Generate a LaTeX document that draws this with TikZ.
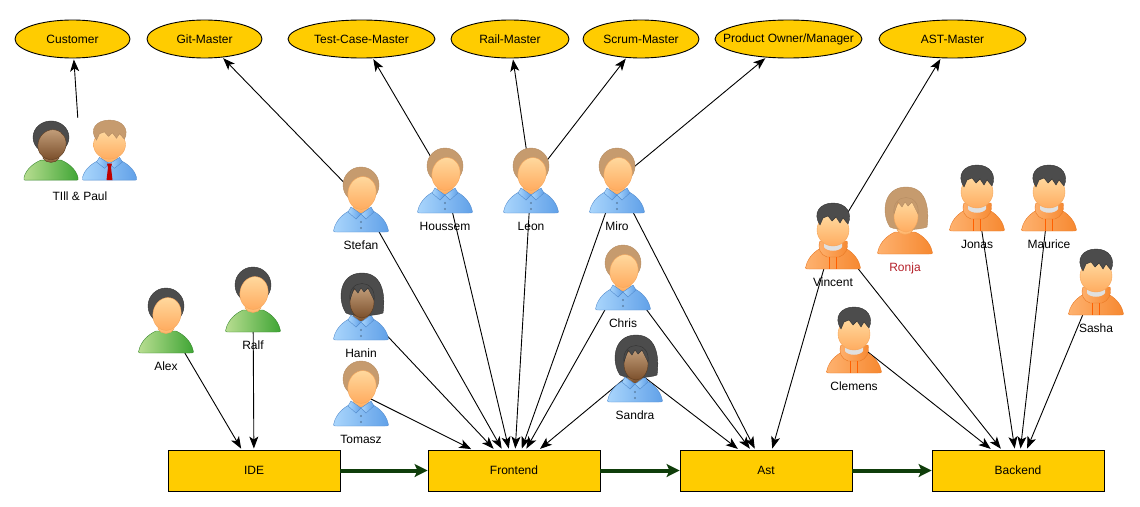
\documentclass[tikz,border=0pt]{standalone}
\usepackage{fontspec}
\setmainfont{Liberation Sans}
\usetikzlibrary{shapes.geometric,arrows.meta}
\definecolor{roleyellow}{HTML}{FFCC00}
\definecolor{flowgreen}{HTML}{0F3D0A}
\definecolor{ronjared}{HTML}{B5202A}
\tikzset{%
  role/.style={ellipse, draw=black, fill=roleyellow, line width=.9pt, inner sep=0pt, minimum height=38pt, font=\fontsize{12}{14}\selectfont},
  team/.style={rectangle, draw=black, fill=roleyellow, line width=.9pt, inner sep=0pt, minimum width=172pt, minimum height=41pt, font=\fontsize{12}{14}\selectfont},
  person/.style={rectangle, inner sep=0pt, minimum width=58pt, minimum height=66pt},
  persontag/.style={inner sep=0pt, text height=9pt, text depth=3pt, font=\fontsize{12}{14}\selectfont, anchor=north, yshift=-7pt},
  link/.style={-{Stealth[length=12pt,width=9pt,inset=3pt]}, line width=.9pt, shorten >=1pt},
  flow/.style={-{Stealth[length=13pt,width=13pt,inset=3pt]}, line width=4pt, flowgreen},
  % looks of the avatars
  bluecloth/.style={left color={rgb,255:red,170;green,214;blue,252}, right color={rgb,255:red,96;green,160;blue,232}, draw={rgb,255:red,84;green,140;blue,205}},
  greencloth/.style={left color={rgb,255:red,186;green,222;blue,146}, right color={rgb,255:red,62;green,165;blue,52}, draw={rgb,255:red,56;green,135;blue,46}},
  orangecloth/.style={left color={rgb,255:red,254;green,178;blue,112}, right color={rgb,255:red,246;green,136;blue,48}, draw={rgb,255:red,232;green,120;blue,36}},
  lightskin/.style={top color={rgb,255:red,255;green,218;blue,160}, bottom color={rgb,255:red,255;green,172;blue,96}, draw={rgb,255:red,245;green,165;blue,90}},
  darkskin/.style={top color={rgb,255:red,196;green,160;blue,124}, bottom color={rgb,255:red,124;green,80;blue,44}, draw={rgb,255:red,90;green,58;blue,30}},
  brownhair/.style={fill={rgb,255:red,198;green,155;blue,110}, draw={rgb,255:red,182;green,140;blue,98}},
  blackhair/.style={fill=black!70, draw=black!80}
}
% body with rounded shoulders
\newcommand{\bodypath}{(-27,29) .. controls (-25,20) and (-17,13) .. (-10,10) -- (10,10) .. controls (17,13) and (25,20) .. (27,29) .. controls (28,32) and (27,32) .. (24,32) -- (-24,32) .. controls (-27,32) and (-28,32) .. (-27,29) -- cycle}
\newcommand{\shirtcloth}{%
  \draw[cloth] \bodypath;
  \fill[skin, draw=none] (-8,0) rectangle (8,12);
  \draw[cloth] (-10,7) -- (0,14) -- (-5,19) -- (-13,12) -- cycle;
  \draw[cloth] (10,7) -- (0,14) -- (5,19) -- (13,12) -- cycle;
  \fill[black, opacity=.3] (0,22) circle (1.2pt) (0,28) circle (1.2pt);
}
\newcommand{\teecloth}{%
  \draw[cloth] \bodypath;
  \draw[skin] (-8,0) -- (-8,8) .. controls (-5,14) and (5,14) .. (8,8) -- (8,0) -- cycle;
}
\newcommand{\tiecloth}{%
  \shirtcloth
  \fill[red!75!black] (-2.5,14) -- (2.5,14) -- (1.5,18) -- (3,32) -- (-3,32) -- (-1.5,18) -- cycle;
}
\newcommand{\hoodcloth}{%
  \draw[cloth] \bodypath;
  \draw[cloth] (-13,4) .. controls (-16,12) and (-12,18) .. (-6,20) -- (6,20) .. controls (12,18) and (16,12) .. (14,4) -- cycle;
  \fill[black!12] (-9,4) -- (9,4) -- (9,10) .. controls (6,15) and (-6,15) .. (-9,10) -- cycle;
  \draw[orange!75!red] (-4,20) -- (-4,32) (3,20) -- (3,32);
}
\newcommand{\hairsmooth}{%
  \draw[hair] (0,-15) ellipse (18pt and 18pt);
  \draw[skin, rotate around={-12:(1,-7)}] (1,-7) ellipse (14pt and 16.5pt);
}
\newcommand{\hairlong}{%
  \draw[hair] (-15,5) .. controls (-24,-8) and (-22,-35) .. (1,-35) .. controls (24,-35) and (24,-8) .. (22,5) .. controls (15,8) and (-8,9) .. (-15,5) -- cycle;
  \draw[skin] (1,-6) ellipse (12pt and 16pt);
  \draw[hair] (-11,-8) -- (-7,-20) -- (-3,-15) -- (0,-20) -- (3,-16) -- (7,-20) -- (13,-8) .. controls (16,-30) and (-14,-30) .. (-11,-8) -- cycle;
}
\newcommand{\hairspiky}{%
  \draw[skin] (0,-7) ellipse (16pt and 16pt);
  \draw[hair] (-13,-12) -- (-10,-19) -- (-5,-21) -- (-1,-16) -- (3,-20) -- (7,-14) -- (10,-19) -- (15,-13) .. controls (20,-24) and (13,-34) .. (0,-34) .. controls (-13,-34) and (-21,-24) .. (-13,-12) -- cycle;
}
% \avatar[options]{at}{clothes}{cloth look}{hair}{hair look}{skin look}
\newcommand{\avatar}[7][]{%
  \begin{scope}[shift={(#2)}, #1, cloth/.style={#4}, hair/.style={#6}, skin/.style={#7}]
    \csname #3\endcsname
    \csname #5\endcsname
  \end{scope}
}

\begin{document}
\begin{tikzpicture}[x=1pt, y=-1pt]
    \useasboundingbox (0,0) rectangle (1140,506);

    % roles
    \node[role, minimum width=115pt] (customer) at (72.5,39) {Customer};
    \node[role, minimum width=115pt] (gitmaster) at (204.5,39) {Git-Master};
    \node[role, minimum width=147pt] (testcasemaster) at (361.5,39) {Test-Case-Master};
    \node[role, minimum width=118pt] (railmaster) at (510,39) {Rail-Master};
    \node[role, minimum width=116pt] (scrummaster) at (641,39) {Scrum-Master};
    \node[role, minimum width=147pt] (productowner) at (788.5,39) {\makebox[0pt]{Product Owner/Manager}};
    \node[role, minimum width=147pt] (astmaster) at (952.5,39) {AST-Master};

    % teams
    \node[team] (ide) at (254,470.5) {IDE};
    \node[team] (frontend) at (514,470.5) {Frontend};
    \node[team] (ast) at (766,470.5) {Ast};
    \node[team] (backend) at (1018,470.5) {Backend};

    % people
    \node[person, minimum width=116pt] (tillpaul) at (80,151) {};
    \coordinate (till) at (51,151);
    \coordinate (paul) at (109.5,151);
    \node[person] (stefan) at (361,200) {};
    \node[person] (houssem) at (445,181) {};
    \node[person] (leon) at (531,181) {};
    \node[person] (miro) at (617,181) {};
    \node[person] (chris) at (623,278) {};
    \node[person] (hanin) at (361,308) {};
    \node[person] (tomasz) at (361,394) {};
    \node[person] (sandra) at (635,370) {};
    \node[person] (alex) at (166,321) {};
    \node[person] (ralf) at (253,300) {};
    \node[person] (vincent) at (833,237) {};
    \node[person] (ronja) at (905,222) {};
    \node[person] (jonas) at (977,199) {};
    \node[person] (maurice) at (1049,199) {};
    \node[person] (sasha) at (1096,283) {};
    \node[person] (clemens) at (854,341) {};

    \node[persontag] (tillpaultag) at (80,184) {TIll \& Paul};
    \node[persontag] (stefantag) at (stefan.south) {Stefan};
    \node[persontag] (houssemtag) at (houssem.south) {Houssem};
    \node[persontag] (leontag) at (leon.south) {Leon};
    \node[persontag] (mirotag) at (miro.south) {Miro};
    \node[persontag] (christag) at (chris.south) {Chris};
    \node[persontag] (hanintag) at (hanin.south) {Hanin};
    \node[persontag] (tomasztag) at (tomasz.south) {Tomasz};
    \node[persontag] (sandratag) at (sandra.south) {Sandra};
    \node[persontag] (alextag) at (alex.south) {Alex};
    \node[persontag] (ralftag) at (ralf.south) {Ralf};
    \node[persontag] (vincenttag) at (vincent.south) {Vincent};
    \node[persontag, ronjared] (ronjatag) at (ronja.south) {Ronja};
    \node[persontag] (jonastag) at (jonas.south) {Jonas};
    \node[persontag] (mauricetag) at (maurice.south) {Maurice};
    \node[persontag] (sashatag) at (sasha.south) {Sasha};
    \node[persontag] (clemenstag) at (clemens.south) {Clemens};

    % connectors run under the avatars
    \draw[link] (tillpaul) -- (customer);
    \draw[link] (stefan.center) -- (gitmaster);
    \draw[link] (houssem.center) -- (testcasemaster);
    \draw[link] (leon.center) -- (railmaster);
    \draw[link] (leon.center) -- (scrummaster);
    \draw[link] (miro.center) -- (productowner);
    \draw[link] (vincent.center) -- (astmaster);

    \draw[link] (alex.center) -- (ide);
    \draw[link] (ralf.center) -- (ide);

    \draw[link] (stefan.center) -- (frontend);
    \draw[link] (houssem.center) -- (frontend);
    \draw[link] (leon.center) -- (frontend);
    \draw[link] (miro.center) -- (frontend);
    \draw[link] (chris.center) -- (frontend);
    \draw[link] (hanin.center) -- (frontend);
    \draw[link] (tomasz.center) -- (frontend);
    \draw[link] (sandra.center) -- (frontend);

    \draw[link] (miro.center) -- (ast);
    \draw[link] (chris.center) -- (ast);
    \draw[link] (sandra.center) -- (ast);
    \draw[link] (vincent.center) -- (ast);

    \draw[link] (vincent.center) -- (backend);
    \draw[link] (clemens.center) -- (backend);
    \draw[link] (jonas.center) -- (backend);
    \draw[link] (maurice.center) -- (backend);
    \draw[link] (sasha.center) -- (backend);

    \draw[flow] (ide) -- (frontend);
    \draw[flow] (frontend) -- (ast);
    \draw[flow] (ast) -- (backend);

    % avatars
    \avatar[yscale=.91]{till}{teecloth}{greencloth}{hairsmooth}{blackhair}{darkskin}
    \avatar[yscale=.91]{paul}{tiecloth}{bluecloth}{hairspiky}{brownhair}{lightskin}
    \avatar{stefan}{shirtcloth}{bluecloth}{hairsmooth}{brownhair}{lightskin}
    \avatar{houssem}{shirtcloth}{bluecloth}{hairsmooth}{brownhair}{lightskin}
    \avatar{leon}{shirtcloth}{bluecloth}{hairsmooth}{brownhair}{lightskin}
    \avatar{miro}{shirtcloth}{bluecloth}{hairsmooth}{brownhair}{lightskin}
    \avatar{chris}{shirtcloth}{bluecloth}{hairsmooth}{brownhair}{lightskin}
    \avatar{tomasz}{shirtcloth}{bluecloth}{hairsmooth}{brownhair}{lightskin}
    \avatar{hanin}{shirtcloth}{bluecloth}{hairlong}{blackhair}{darkskin}
    \avatar{sandra}{shirtcloth}{bluecloth}{hairlong}{blackhair}{darkskin}
    \avatar{alex}{teecloth}{greencloth}{hairsmooth}{blackhair}{lightskin}
    \avatar{ralf}{teecloth}{greencloth}{hairsmooth}{blackhair}{lightskin}
    \avatar{vincent}{hoodcloth}{orangecloth}{hairspiky}{blackhair}{lightskin}
    \avatar{jonas}{hoodcloth}{orangecloth}{hairspiky}{blackhair}{lightskin}
    \avatar{maurice}{hoodcloth}{orangecloth}{hairspiky}{blackhair}{lightskin}
    \avatar{sasha}{hoodcloth}{orangecloth}{hairspiky}{blackhair}{lightskin}
    \avatar{clemens}{hoodcloth}{orangecloth}{hairspiky}{blackhair}{lightskin}
    \avatar{ronja}{teecloth}{orangecloth}{hairlong}{brownhair}{lightskin}
\end{tikzpicture}
\end{document}
